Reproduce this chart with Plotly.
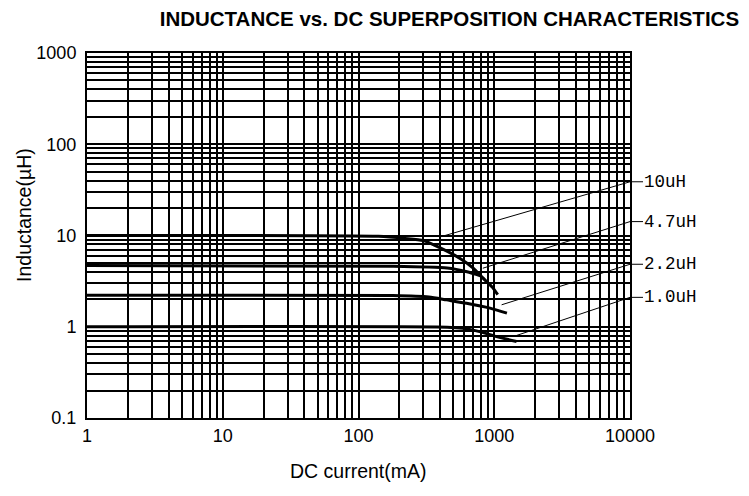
import numpy as np
import plotly.graph_objects as go

# ---- data ----
current_10uH = [1, 140, 220, 300, 400, 560, 700, 820, 970, 1060]
ind_10uH = [10, 9.8, 9.3, 8.8, 7.3, 5.6, 4.4, 3.45, 2.7, 2.25]

current_4_7uH = [1, 180, 450, 630, 800]
ind_4_7uH = [4.7, 4.6, 4.4, 4.0, 3.6]

current_2_2uH = [1, 180, 330, 445, 625, 930, 1240]
ind_2_2uH = [2.22, 2.2, 2.12, 1.97, 1.81, 1.6, 1.41]

current_1_0uH = [1, 450, 590, 780, 1040, 1460]
ind_1_0uH = [1.0, 0.99, 0.96, 0.885, 0.78, 0.69]

series_labels = ["10uH", "4.7uH", "2.2uH", "1.0uH"]
leader_tip_current = [395, 824, 1133, 1378]
leader_tip_ind = [9.6, 4.38, 1.74, 0.78]
label_ind = [38.8, 14.2, 4.84, 2.1]
leader_end_current = 10000

x_tick_labels = ["1", "10", "100", "1000", "10000"]
y_tick_labels = ["0.1", "1", "10", "100", "1000"]

# ---- grid tick values (all 1..9 per decade) ----
def decade_vals(lo_exp, hi_exp):
    vals, txt = [], []
    for e in range(lo_exp, hi_exp):
        for m in range(1, 10):
            vals.append(round(m * 10 ** e, 10))
            txt.append("")
    vals.append(round(10 ** hi_exp, 10))
    txt.append("")
    return vals, txt

xv, xt = decade_vals(0, 4)
for i, lab in enumerate(x_tick_labels):
    xt[xv.index(round(10 ** i, 10))] = lab
yv, yt = decade_vals(-1, 3)
for i, lab in enumerate(y_tick_labels):
    yt[yv.index(round(10 ** (i - 1), 10))] = lab

fig = go.Figure()
curves = [(current_10uH, ind_10uH), (current_4_7uH, ind_4_7uH),
          (current_2_2uH, ind_2_2uH), (current_1_0uH, ind_1_0uH)]
for cx, cy in curves:
    fig.add_trace(go.Scatter(x=cx, y=cy, mode="lines",
                             line=dict(color="black", width=3, shape="spline", smoothing=0.6),
                             showlegend=False, hoverinfo="skip"))

for i in range(4):
    fig.add_trace(go.Scatter(x=[leader_tip_current[i], leader_end_current],
                             y=[leader_tip_ind[i], label_ind[i]], mode="lines",
                             line=dict(color="black", width=1),
                             showlegend=False, hoverinfo="skip"))
    fig.add_annotation(x=np.log10(leader_end_current), y=np.log10(label_ind[i]),
                       xref="x", yref="y", text=series_labels[i],
                       showarrow=True, axref="pixel", ayref="pixel", ax=13, ay=0,
                       arrowhead=0, arrowwidth=1, arrowcolor="black",
                       standoff=0, startstandoff=0,
                       xanchor="left", yanchor="middle", borderpad=0,
                       font=dict(family="Liberation Mono", size=17.5, color="black"))

axis_common = dict(type="log", showgrid=True, gridcolor="black", gridwidth=1.5,
                   showline=True, linecolor="black", linewidth=2, mirror=True,
                   ticks="", zeroline=False, automargin=False,
                   tickfont=dict(family="Liberation Sans", size=18, color="black"))

fig.update_xaxes(range=[0, 4], tickmode="array", tickvals=xv, ticktext=xt,
                 ticklabelstandoff=0, **axis_common)
fig.update_yaxes(range=[-1, 3], tickmode="array", tickvals=yv, ticktext=yt,
                 ticklabelstandoff=5, **axis_common)

# axis titles
fig.add_annotation(text="DC current(mA)", xref="paper", yref="paper",
                   x=0.5, y=-0.145, xanchor="center", yanchor="middle",
                   showarrow=False,
                   font=dict(family="Liberation Sans", size=19.5, color="black"))
fig.add_annotation(text="Inductance(µH)", xref="paper", yref="paper",
                   x=-0.115, y=0.555, xanchor="center", yanchor="middle",
                   textangle=-90, showarrow=False,
                   font=dict(family="Liberation Sans", size=19.5, color="black"))

fig.update_layout(
    width=749, height=496,
    margin=dict(l=87, r=119, t=53, b=78),
    paper_bgcolor="white", plot_bgcolor="white",
    title=dict(text="<b>INDUCTANCE vs. DC SUPERPOSITION CHARACTERISTICS</b>",
               x=0.6, xanchor="center", y=0.963, yanchor="middle",
               font=dict(family="Liberation Sans", size=20.5, color="black")),
)

fig.write_html("out.html", config={"displayModeBar": False},
               post_script="document.body.style.margin='0';")
